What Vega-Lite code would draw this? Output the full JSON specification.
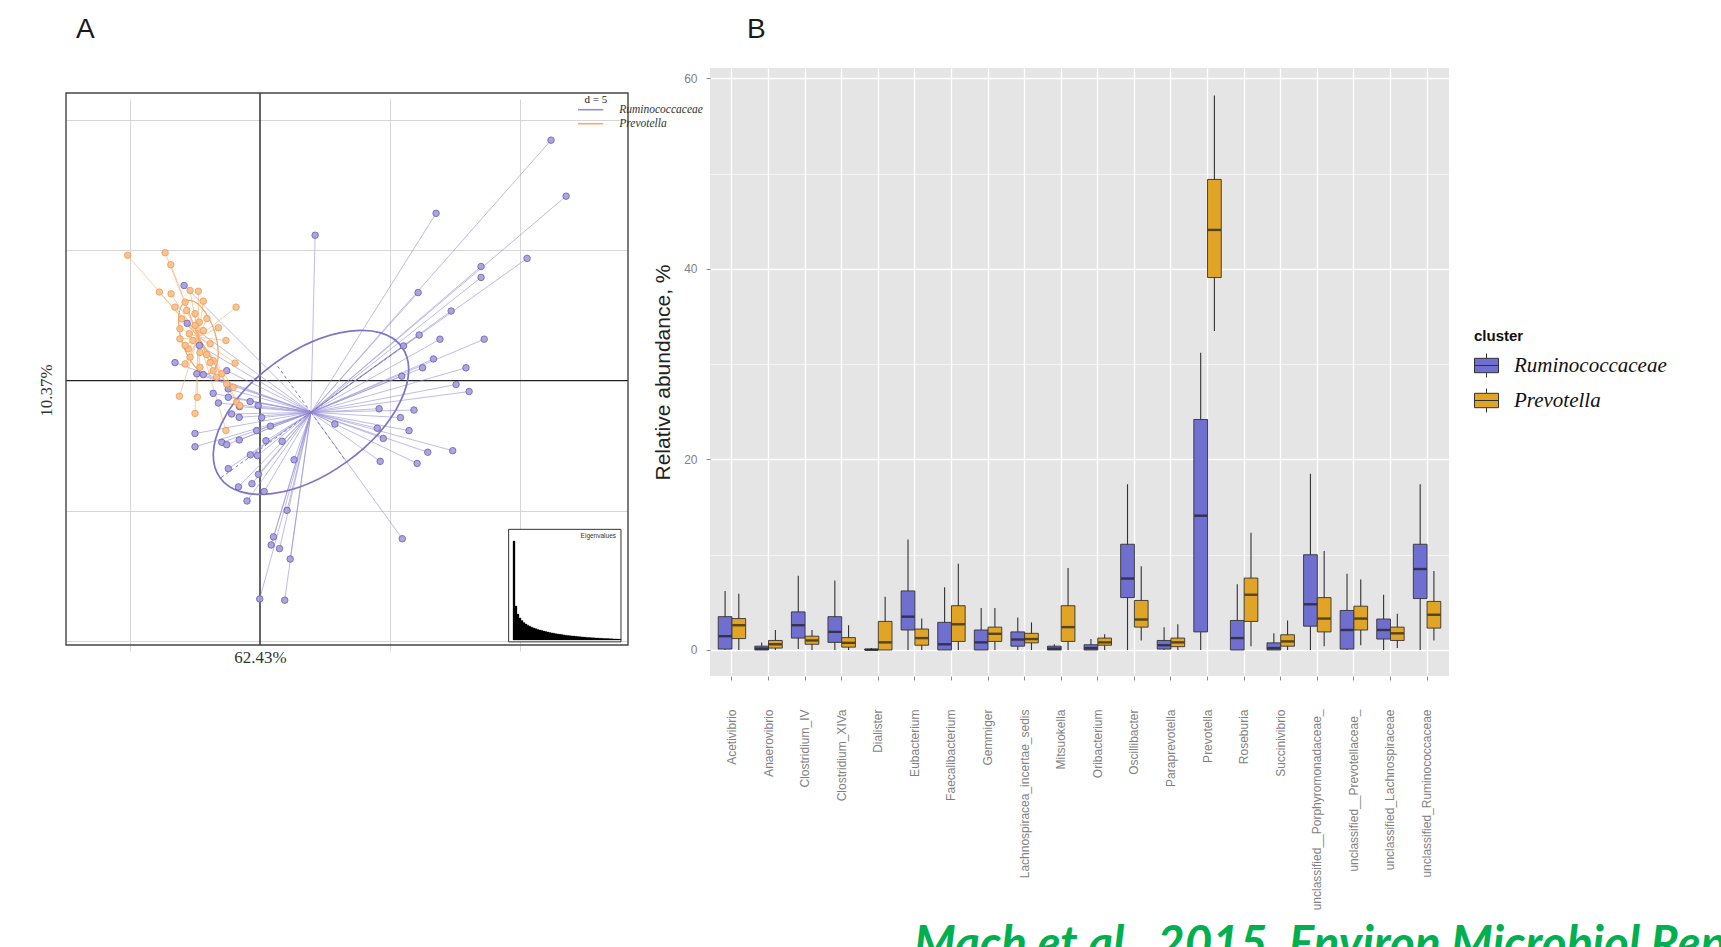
{
  "$schema": "https://vega.github.io/schema/vega-lite/v6.json",
  "background": "white",
  "padding": 0,
  "config": {
    "view": {"stroke": null},
    "axis": {"labelFont": "Liberation Sans", "titleFont": "Liberation Sans"},
    "legend": {"labelFont": "Liberation Sans", "titleFont": "Liberation Sans"},
    "title": {"font": "Liberation Sans Narrow, Liberation Sans"}
  },
  "datasets": {
    "boxes": [
      {"genus": "Acetivibrio", "cluster": "Ruminococcaceae", "lo": 0, "q1": 0.1, "med": 1.45, "q3": 3.5, "hi": 6.2},
      {"genus": "Acetivibrio", "cluster": "Prevotella", "lo": 0, "q1": 1.2, "med": 2.6, "q3": 3.3, "hi": 5.9},
      {"genus": "Anaerovibrio", "cluster": "Ruminococcaceae", "lo": 0, "q1": 0, "med": 0.15, "q3": 0.4, "hi": 0.8},
      {"genus": "Anaerovibrio", "cluster": "Prevotella", "lo": 0, "q1": 0.2, "med": 0.6, "q3": 1.0, "hi": 2.1},
      {"genus": "Clostridium_IV", "cluster": "Ruminococcaceae", "lo": 0.1, "q1": 1.25, "med": 2.6, "q3": 4.0, "hi": 7.8},
      {"genus": "Clostridium_IV", "cluster": "Prevotella", "lo": 0, "q1": 0.6, "med": 1.0, "q3": 1.45, "hi": 2.1},
      {"genus": "Clostridium_XIVa", "cluster": "Ruminococcaceae", "lo": 0, "q1": 0.8, "med": 1.9, "q3": 3.5, "hi": 7.3},
      {"genus": "Clostridium_XIVa", "cluster": "Prevotella", "lo": 0, "q1": 0.3, "med": 0.75, "q3": 1.3, "hi": 2.6},
      {"genus": "Dialister", "cluster": "Ruminococcaceae", "lo": 0, "q1": 0, "med": 0.02, "q3": 0.1, "hi": 0.2},
      {"genus": "Dialister", "cluster": "Prevotella", "lo": 0, "q1": 0, "med": 0.8, "q3": 3.0, "hi": 5.6},
      {"genus": "Eubacterium", "cluster": "Ruminococcaceae", "lo": 0, "q1": 2.1, "med": 3.5, "q3": 6.2, "hi": 11.6},
      {"genus": "Eubacterium", "cluster": "Prevotella", "lo": 0, "q1": 0.5, "med": 1.25, "q3": 2.2, "hi": 3.3},
      {"genus": "Faecalibacterium", "cluster": "Ruminococcaceae", "lo": 0, "q1": 0, "med": 0.6, "q3": 2.9, "hi": 6.6},
      {"genus": "Faecalibacterium", "cluster": "Prevotella", "lo": 0, "q1": 0.9, "med": 2.7, "q3": 4.65, "hi": 9.05},
      {"genus": "Gemmiger", "cluster": "Ruminococcaceae", "lo": 0, "q1": 0, "med": 0.8, "q3": 2.1, "hi": 4.4},
      {"genus": "Gemmiger", "cluster": "Prevotella", "lo": 0, "q1": 0.9, "med": 1.7, "q3": 2.4, "hi": 4.4},
      {"genus": "Lachnospiracea_incertae_sedis", "cluster": "Ruminococcaceae", "lo": 0, "q1": 0.4, "med": 1.1, "q3": 1.9, "hi": 3.4},
      {"genus": "Lachnospiracea_incertae_sedis", "cluster": "Prevotella", "lo": 0, "q1": 0.75, "med": 1.15, "q3": 1.75, "hi": 2.9},
      {"genus": "Mitsuokella", "cluster": "Ruminococcaceae", "lo": 0, "q1": 0, "med": 0.15, "q3": 0.4, "hi": 0.6},
      {"genus": "Mitsuokella", "cluster": "Prevotella", "lo": 0, "q1": 0.9, "med": 2.4, "q3": 4.65, "hi": 8.6},
      {"genus": "Oribacterium", "cluster": "Ruminococcaceae", "lo": 0, "q1": 0, "med": 0.2, "q3": 0.55, "hi": 1.15},
      {"genus": "Oribacterium", "cluster": "Prevotella", "lo": 0, "q1": 0.5, "med": 0.8, "q3": 1.25, "hi": 1.65},
      {"genus": "Oscillibacter", "cluster": "Ruminococcaceae", "lo": 0, "q1": 5.5, "med": 7.5, "q3": 11.1, "hi": 17.4},
      {"genus": "Oscillibacter", "cluster": "Prevotella", "lo": 1.0, "q1": 2.4, "med": 3.2, "q3": 5.2, "hi": 8.8},
      {"genus": "Paraprevotella", "cluster": "Ruminococcaceae", "lo": 0, "q1": 0.1, "med": 0.5, "q3": 1.0, "hi": 2.4},
      {"genus": "Paraprevotella", "cluster": "Prevotella", "lo": 0, "q1": 0.35, "med": 0.8, "q3": 1.25, "hi": 2.7},
      {"genus": "Prevotella", "cluster": "Ruminococcaceae", "lo": 0, "q1": 1.9, "med": 14.1, "q3": 24.2, "hi": 31.2},
      {"genus": "Prevotella", "cluster": "Prevotella", "lo": 33.5, "q1": 39.1, "med": 44.1, "q3": 49.4, "hi": 58.2},
      {"genus": "Roseburia", "cluster": "Ruminococcaceae", "lo": 0, "q1": 0, "med": 1.25, "q3": 3.1, "hi": 6.9},
      {"genus": "Roseburia", "cluster": "Prevotella", "lo": 0.4, "q1": 3.0, "med": 5.8, "q3": 7.55, "hi": 12.3},
      {"genus": "Succinivibrio", "cluster": "Ruminococcaceae", "lo": 0, "q1": 0, "med": 0.2, "q3": 0.75, "hi": 1.75},
      {"genus": "Succinivibrio", "cluster": "Prevotella", "lo": 0, "q1": 0.4, "med": 0.9, "q3": 1.6, "hi": 3.1},
      {"genus": "unclassified__Porphyromonadaceae_", "cluster": "Ruminococcaceae", "lo": 0, "q1": 2.5, "med": 4.8, "q3": 10.0, "hi": 18.5},
      {"genus": "unclassified__Porphyromonadaceae_", "cluster": "Prevotella", "lo": 0.4, "q1": 1.9, "med": 3.3, "q3": 5.5, "hi": 10.4},
      {"genus": "unclassified__Prevotellaceae_", "cluster": "Ruminococcaceae", "lo": 0, "q1": 0.1, "med": 2.1, "q3": 4.15, "hi": 8.0},
      {"genus": "unclassified__Prevotellaceae_", "cluster": "Prevotella", "lo": 0.5, "q1": 2.1, "med": 3.3, "q3": 4.6, "hi": 7.4},
      {"genus": "unclassified_Lachnospiraceae", "cluster": "Ruminococcaceae", "lo": 0, "q1": 1.15, "med": 2.1, "q3": 3.25, "hi": 5.8},
      {"genus": "unclassified_Lachnospiraceae", "cluster": "Prevotella", "lo": 0.2, "q1": 1.0, "med": 1.75, "q3": 2.4, "hi": 3.8},
      {"genus": "unclassified_Ruminococcaceae", "cluster": "Ruminococcaceae", "lo": 0, "q1": 5.4, "med": 8.5, "q3": 11.1, "hi": 17.4},
      {"genus": "unclassified_Ruminococcaceae", "cluster": "Prevotella", "lo": 1.0, "q1": 2.3, "med": 3.7, "q3": 5.1, "hi": 8.3}
    ],
    "pts": [
      {"g": "Ruminococcaceae", "x": 11.19, "y": 9.23}, {"g": "Ruminococcaceae", "x": 11.77, "y": 7.08},
      {"g": "Ruminococcaceae", "x": 6.77, "y": 6.42}, {"g": "Ruminococcaceae", "x": 2.12, "y": 5.58},
      {"g": "Ruminococcaceae", "x": 10.27, "y": 4.69}, {"g": "Ruminococcaceae", "x": 8.5, "y": 4.38},
      {"g": "Ruminococcaceae", "x": 8.5, "y": 3.96}, {"g": "Ruminococcaceae", "x": 6.08, "y": 3.38},
      {"g": "Ruminococcaceae", "x": 7.35, "y": 2.67}, {"g": "Ruminococcaceae", "x": 6.12, "y": 1.75},
      {"g": "Ruminococcaceae", "x": 6.92, "y": 1.59}, {"g": "Ruminococcaceae", "x": 8.62, "y": 1.59},
      {"g": "Ruminococcaceae", "x": 5.52, "y": 1.33}, {"g": "Ruminococcaceae", "x": 6.67, "y": 0.83},
      {"g": "Ruminococcaceae", "x": 6.25, "y": 0.49}, {"g": "Ruminococcaceae", "x": 7.92, "y": 0.49},
      {"g": "Ruminococcaceae", "x": 5.45, "y": 0.17}, {"g": "Ruminococcaceae", "x": 7.54, "y": -0.15},
      {"g": "Ruminococcaceae", "x": 8.04, "y": -0.42}, {"g": "Ruminococcaceae", "x": 4.58, "y": -1.08},
      {"g": "Ruminococcaceae", "x": 5.92, "y": -1.13}, {"g": "Ruminococcaceae", "x": 5.4, "y": -1.42},
      {"g": "Ruminococcaceae", "x": 2.88, "y": -1.67}, {"g": "Ruminococcaceae", "x": 4.51, "y": -1.83},
      {"g": "Ruminococcaceae", "x": 5.73, "y": -1.92}, {"g": "Ruminococcaceae", "x": 4.74, "y": -2.22},
      {"g": "Ruminococcaceae", "x": 6.45, "y": -2.75}, {"g": "Ruminococcaceae", "x": 7.41, "y": -2.69},
      {"g": "Ruminococcaceae", "x": 4.62, "y": -3.1}, {"g": "Ruminococcaceae", "x": 6.04, "y": -3.18},
      {"g": "Ruminococcaceae", "x": 5.47, "y": -6.07}, {"g": "Ruminococcaceae", "x": 1.31, "y": -3.04},
      {"g": "Ruminococcaceae", "x": 1.04, "y": -4.98}, {"g": "Ruminococcaceae", "x": 0.52, "y": -6.0},
      {"g": "Ruminococcaceae", "x": 0.43, "y": -6.31}, {"g": "Ruminococcaceae", "x": 0.75, "y": -6.45},
      {"g": "Ruminococcaceae", "x": 1.16, "y": -6.85}, {"g": "Ruminococcaceae", "x": -0.01, "y": -8.38},
      {"g": "Ruminococcaceae", "x": 0.95, "y": -8.43}, {"g": "Ruminococcaceae", "x": -1.8, "y": -0.49},
      {"g": "Ruminococcaceae", "x": -1.6, "y": -0.86}, {"g": "Ruminococcaceae", "x": -1.22, "y": -0.64},
      {"g": "Ruminococcaceae", "x": -1.09, "y": -1.28}, {"g": "Ruminococcaceae", "x": -0.8, "y": -1.41},
      {"g": "Ruminococcaceae", "x": -0.38, "y": -0.8}, {"g": "Ruminococcaceae", "x": -0.07, "y": -0.96},
      {"g": "Ruminococcaceae", "x": 0.06, "y": -1.42}, {"g": "Ruminococcaceae", "x": -2.5, "y": -2.03},
      {"g": "Ruminococcaceae", "x": -2.5, "y": -2.54}, {"g": "Ruminococcaceae", "x": -1.47, "y": -2.37},
      {"g": "Ruminococcaceae", "x": -1.28, "y": -2.46}, {"g": "Ruminococcaceae", "x": -0.8, "y": -2.28},
      {"g": "Ruminococcaceae", "x": -0.13, "y": -1.92}, {"g": "Ruminococcaceae", "x": 0.4, "y": -1.75},
      {"g": "Ruminococcaceae", "x": 0.23, "y": -2.31}, {"g": "Ruminococcaceae", "x": 0.85, "y": -2.33},
      {"g": "Ruminococcaceae", "x": -0.37, "y": -2.85}, {"g": "Ruminococcaceae", "x": -0.1, "y": -2.88},
      {"g": "Ruminococcaceae", "x": -1.22, "y": -3.38}, {"g": "Ruminococcaceae", "x": -0.06, "y": -3.6},
      {"g": "Ruminococcaceae", "x": -0.31, "y": -3.96}, {"g": "Ruminococcaceae", "x": -0.83, "y": -4.08},
      {"g": "Ruminococcaceae", "x": 0.16, "y": -4.26}, {"g": "Ruminococcaceae", "x": -0.5, "y": -4.62},
      {"g": "Ruminococcaceae", "x": -2.92, "y": 3.65}, {"g": "Ruminococcaceae", "x": -2.8, "y": 2.2},
      {"g": "Ruminococcaceae", "x": -2.33, "y": 1.35}, {"g": "Ruminococcaceae", "x": -3.27, "y": 0.69},
      {"g": "Ruminococcaceae", "x": -2.43, "y": 0.26}, {"g": "Ruminococcaceae", "x": -2.18, "y": 0.23},
      {"g": "Ruminococcaceae", "x": -1.28, "y": 0.38}, {"g": "Ruminococcaceae", "x": -1.22, "y": -0.32},
      {"g": "Ruminococcaceae", "x": -0.79, "y": -1.0},
      {"g": "Prevotella", "x": -5.09, "y": 4.81}, {"g": "Prevotella", "x": -3.65, "y": 4.91},
      {"g": "Prevotella", "x": -3.43, "y": 4.45}, {"g": "Prevotella", "x": -3.87, "y": 3.4},
      {"g": "Prevotella", "x": -3.42, "y": 3.33}, {"g": "Prevotella", "x": -2.69, "y": 3.46},
      {"g": "Prevotella", "x": -2.37, "y": 3.43}, {"g": "Prevotella", "x": -2.18, "y": 3.05},
      {"g": "Prevotella", "x": -0.92, "y": 2.82}, {"g": "Prevotella", "x": -3.27, "y": 2.82},
      {"g": "Prevotella", "x": -2.88, "y": 3.01}, {"g": "Prevotella", "x": -2.82, "y": 2.69},
      {"g": "Prevotella", "x": -2.5, "y": 2.57}, {"g": "Prevotella", "x": -3.01, "y": 2.37},
      {"g": "Prevotella", "x": -2.33, "y": 2.24}, {"g": "Prevotella", "x": -1.6, "y": 2.03},
      {"g": "Prevotella", "x": -3.08, "y": 1.99}, {"g": "Prevotella", "x": -2.72, "y": 1.8},
      {"g": "Prevotella", "x": -2.18, "y": 1.92}, {"g": "Prevotella", "x": -1.31, "y": 1.54},
      {"g": "Prevotella", "x": -3.08, "y": 1.6}, {"g": "Prevotella", "x": -1.92, "y": 1.41},
      {"g": "Prevotella", "x": -2.76, "y": 1.22}, {"g": "Prevotella", "x": -2.05, "y": 1.0},
      {"g": "Prevotella", "x": -2.69, "y": 0.9}, {"g": "Prevotella", "x": -1.8, "y": 0.77},
      {"g": "Prevotella", "x": -0.96, "y": 0.67}, {"g": "Prevotella", "x": -2.88, "y": 0.64},
      {"g": "Prevotella", "x": -2.31, "y": 0.51}, {"g": "Prevotella", "x": -1.8, "y": 0.38},
      {"g": "Prevotella", "x": -1.67, "y": 0.13}, {"g": "Prevotella", "x": -1.28, "y": -0.13},
      {"g": "Prevotella", "x": -1.03, "y": -0.26}, {"g": "Prevotella", "x": -3.1, "y": -0.6},
      {"g": "Prevotella", "x": -2.41, "y": -0.64}, {"g": "Prevotella", "x": -0.9, "y": -0.83},
      {"g": "Prevotella", "x": -1.47, "y": 0.26}, {"g": "Prevotella", "x": -2.5, "y": -1.26},
      {"g": "Prevotella", "x": -1.31, "y": -1.92}, {"g": "Prevotella", "x": -0.77, "y": -0.96},
      {"g": "Prevotella", "x": -2.5, "y": 2.12}, {"g": "Prevotella", "x": -2.04, "y": 2.38},
      {"g": "Prevotella", "x": -2.88, "y": 1.35}, {"g": "Prevotella", "x": -2.31, "y": 1.08},
      {"g": "Prevotella", "x": -2.58, "y": 1.54}, {"g": "Prevotella", "x": -1.92, "y": 0.69}
    ],
    "cent": [
      {"g": "Ruminococcaceae", "cx": 1.96, "cy": -1.22},
      {"g": "Prevotella", "cx": -2.37, "cy": 1.67}
    ],
    "eax": [
      {"x": 1.96, "y": -1.22, "x2": 5.46, "y2": 1.28},
      {"x": 1.96, "y": -1.22, "x2": -1.53, "y2": -3.75},
      {"x": 1.96, "y": -1.22, "x2": 3.33, "y2": -3.13},
      {"x": 1.96, "y": -1.22, "x2": 0.59, "y2": 0.67}
    ],
    "eig": [
      {"k": 1, "v": 99}, {"k": 2, "v": 34}, {"k": 3, "v": 26}, {"k": 4, "v": 22}, {"k": 5, "v": 19.5},
      {"k": 6, "v": 17.5}, {"k": 7, "v": 16}, {"k": 8, "v": 14.8}, {"k": 9, "v": 13.7}, {"k": 10, "v": 12.8},
      {"k": 11, "v": 12}, {"k": 12, "v": 11.3}, {"k": 13, "v": 10.6}, {"k": 14, "v": 10}, {"k": 15, "v": 9.4},
      {"k": 16, "v": 8.9}, {"k": 17, "v": 8.4}, {"k": 18, "v": 7.9}, {"k": 19, "v": 7.5}, {"k": 20, "v": 7.1},
      {"k": 21, "v": 6.7}, {"k": 22, "v": 6.3}, {"k": 23, "v": 6}, {"k": 24, "v": 5.7}, {"k": 25, "v": 5.4},
      {"k": 26, "v": 5.1}, {"k": 27, "v": 4.8}, {"k": 28, "v": 4.6}, {"k": 29, "v": 4.3}, {"k": 30, "v": 4.1},
      {"k": 31, "v": 3.9}, {"k": 32, "v": 3.7}, {"k": 33, "v": 3.5}, {"k": 34, "v": 3.3}, {"k": 35, "v": 3.1},
      {"k": 36, "v": 2.9}, {"k": 37, "v": 2.75}, {"k": 38, "v": 2.6}, {"k": 39, "v": 2.45}, {"k": 40, "v": 2.3},
      {"k": 41, "v": 2.15}, {"k": 42, "v": 2.0}, {"k": 43, "v": 1.9}, {"k": 44, "v": 1.8}, {"k": 45, "v": 1.7},
      {"k": 46, "v": 1.6}, {"k": 47, "v": 1.5}, {"k": 48, "v": 1.4}, {"k": 49, "v": 1.3}, {"k": 50, "v": 1.2},
      {"k": 51, "v": 1.1}, {"k": 52, "v": 1.0}, {"k": 53, "v": 0.9}, {"k": 54, "v": 0.8}
    ]
  },
  "columns": 4,
  "spacing": 0,
  "bounds": "flush",
  "align": "each",
  "resolve": {
    "scale": {"color": "independent", "fill": "independent", "stroke": "independent"},
    "legend": {"color": "independent"}
  },
  "concat": [
    {"width": 66, "height": 68, "data": {"values": []}, "mark": "point", "encoding": {}},
    {"width": 562, "height": 1, "data": {"values": []}, "mark": "point", "encoding": {}},
    {"width": 82, "height": 1, "data": {"values": []}, "mark": "point", "encoding": {}},
    {"width": 739, "height": 1, "data": {"values": []}, "mark": "point", "encoding": {}},

    {"width": 66, "height": 608, "data": {"values": []}, "mark": "point", "encoding": {}},
    {
      "width": 562,
      "height": 608,
      "title": {"text": "A", "anchor": "start", "frame": "group", "dx": 10, "offset": 24, "fontSize": 28, "fontWeight": "normal", "color": "#1a1a1a"},
      "layer": [
        {
          "layer": [
            {
              "data": {"values": [{}]},
              "mark": {"type": "rule", "color": "#222222", "strokeWidth": 1.4},
              "encoding": {
                "x": {
                  "datum": 0, "type": "quantitative", "title": "62.43%",
                  "scale": {"domain": [-7.46, 14.15], "nice": false, "zero": false},
                  "axis": {
                    "values": [-5, 5, 10], "grid": true, "gridColor": "#d6d6d6", "gridWidth": 1,
                    "labels": false, "ticks": false, "domain": false,
                    "title": "62.43%", "titleFont": "Liberation Serif", "titleFontSize": 17, "titleFontWeight": "normal",
                    "titleColor": "#333333", "titleX": 194, "titlePadding": 4, "offset": -31
                  }
                },
                "y": {
                  "datum": -10.15, "type": "quantitative", "title": "10.37%",
                  "scale": {"domain": [-10.15, 11.04], "range": [577, 25], "nice": false, "zero": false},
                  "axis": {
                    "values": [-10, -5, 5, 10], "grid": true, "gridColor": "#d6d6d6", "gridWidth": 1,
                    "labels": false, "ticks": false, "domain": false,
                    "title": "10.37%", "titleFont": "Liberation Serif", "titleFontSize": 17, "titleFontWeight": "normal",
                    "titleColor": "#333333", "titleY": 322, "titlePadding": 11
                  }
                },
                "y2": {"datum": 11.04}
              }
            },
            {
              "data": {"values": [{}]},
              "mark": {"type": "rule", "color": "#222222", "strokeWidth": 1.4},
              "encoding": {
                "y": {"datum": 0, "type": "quantitative", "title": "10.37%"},
                "x": {"datum": -7.46, "type": "quantitative", "title": "62.43%"},
                "x2": {"datum": 14.15}
              }
            },
            {
              "data": {"name": "pts"},
              "transform": [{"lookup": "g", "from": {"data": {"name": "cent"}, "key": "g", "fields": ["cx", "cy"]}}],
              "mark": {"type": "rule", "strokeWidth": 0.8, "opacity": 0.75},
              "encoding": {
                "x": {"field": "x", "type": "quantitative", "title": "62.43%"},
                "y": {"field": "y", "type": "quantitative", "title": "10.37%"},
                "x2": {"field": "cx"},
                "y2": {"field": "cy"},
                "color": {
                  "field": "g", "type": "nominal",
                  "scale": {"domain": ["Ruminococcaceae", "Prevotella"], "range": ["#958DD3", "#F5AE6E"]},
                  "legend": {
                    "orient": "none", "legendX": 516.6, "legendY": 33.7, "title": null, "padding": 0,
                    "symbolType": "M -1.8 0 L 1.8 0", "symbolSize": 196, "symbolStrokeWidth": 1.6, "symbolOpacity": 1,
                    "labelFont": "Liberation Serif", "labelFontStyle": "italic", "labelFontSize": 11.5,
                    "labelColor": "#333333", "labelOffset": 20.6, "rowPadding": 0, "labelLimit": 200
                  }
                }
              }
            },
            {
              "data": {"name": "cent"},
              "transform": [{"filter": "datum.g === 'Ruminococcaceae'"}],
              "mark": {
                "type": "point", "filled": false, "opacity": 1, "stroke": "#7F75C6", "strokeWidth": 1.7, "size": 50176,
                "shape": "M -0.812 0.584 A 1 0.545 -35.7 1 1 0.812 -0.584 A 1 0.545 -35.7 1 1 -0.812 0.584 Z"
              },
              "encoding": {
                "x": {"field": "cx", "type": "quantitative", "title": "62.43%"},
                "y": {"field": "cy", "type": "quantitative", "title": "10.37%"}
              }
            },
            {
              "data": {"name": "cent"},
              "transform": [{"filter": "datum.g === 'Prevotella'"}],
              "mark": {
                "type": "point", "filled": false, "opacity": 1, "stroke": "#F3A35E", "strokeWidth": 1.2, "size": 5776,
                "shape": "M -0.297 -0.955 A 1 0.45 72.7 1 1 0.297 0.955 A 1 0.45 72.7 1 1 -0.297 -0.955 Z"
              },
              "encoding": {
                "x": {"field": "cx", "type": "quantitative", "title": "62.43%"},
                "y": {"field": "cy", "type": "quantitative", "title": "10.37%"}
              }
            },
            {
              "data": {"name": "eax"},
              "mark": {"type": "rule", "color": "#7F75C6", "strokeWidth": 1, "strokeDash": [3, 3]},
              "encoding": {
                "x": {"field": "x", "type": "quantitative", "title": "62.43%"},
                "y": {"field": "y", "type": "quantitative", "title": "10.37%"},
                "x2": {"field": "x2"},
                "y2": {"field": "y2"}
              }
            },
            {
              "data": {"name": "pts"},
              "mark": {"type": "point", "filled": true, "size": 42, "strokeWidth": 1, "opacity": 0.9},
              "encoding": {
                "x": {"field": "x", "type": "quantitative", "title": "62.43%"},
                "y": {"field": "y", "type": "quantitative", "title": "10.37%"},
                "fill": {"field": "g", "type": "nominal", "scale": {"domain": ["Ruminococcaceae", "Prevotella"], "range": ["#A49EDD", "#F9BF8A"]}, "legend": null},
                "stroke": {"field": "g", "type": "nominal", "scale": {"domain": ["Ruminococcaceae", "Prevotella"], "range": ["#6C62B6", "#EF9E55"]}, "legend": null}
              }
            },
            {
              "data": {"values": [{}]},
              "mark": {"type": "rect", "fill": "white", "stroke": "#333333", "strokeWidth": 1},
              "encoding": {
                "x": {"datum": 9.56, "type": "quantitative", "title": "62.43%"},
                "x2": {"datum": 13.88},
                "y": {"datum": -5.71, "type": "quantitative", "title": "10.37%"},
                "y2": {"datum": -10.03}
              }
            },
            {
              "data": {"values": [{}]},
              "mark": {"type": "text", "text": "Eigenvalues", "align": "right", "baseline": "middle", "fontSize": 6.5, "font": "Liberation Sans", "color": "#333333"},
              "encoding": {
                "x": {"datum": 13.69, "type": "quantitative", "title": "62.43%"},
                "y": {"datum": -5.96, "type": "quantitative", "title": "10.37%"}
              }
            },
            {
              "data": {"values": [{}]},
              "mark": {"type": "text", "text": "d = 5", "align": "right", "baseline": "middle", "fontSize": 11, "font": "Liberation Serif", "color": "#222222"},
              "encoding": {
                "x": {"datum": 13.35, "type": "quantitative", "title": "62.43%"},
                "y": {"datum": 10.77, "type": "quantitative", "title": "10.37%"}
              }
            },
            {
              "data": {"values": [{}]},
              "mark": {"type": "rect", "fillOpacity": 0, "stroke": "#444444", "strokeWidth": 1.4},
              "encoding": {
                "x": {"datum": -7.46, "type": "quantitative", "title": "62.43%"},
                "x2": {"datum": 14.15},
                "y": {"datum": -10.15, "type": "quantitative", "title": "10.37%"},
                "y2": {"datum": 11.04}
              }
            }
          ]
        },
        {
          "data": {"name": "eig"},
          "mark": {"type": "bar", "color": "black", "stroke": "black", "strokeWidth": 0.3},
          "encoding": {
            "x": {"field": "k", "type": "ordinal", "scale": {"range": [447, 555], "paddingInner": 0, "paddingOuter": 0}, "axis": null},
            "y": {"field": "v", "type": "quantitative", "scale": {"domain": [0, 99], "range": [572, 473]}, "axis": null}
          }
        }
      ],
      "resolve": {"scale": {"x": "independent", "y": "independent"}, "axis": {"x": "independent", "y": "independent"}}
    },
    {"width": 82, "height": 608, "data": {"values": []}, "mark": "point", "encoding": {}},
    {
      "width": 739,
      "height": 608,
      "title": {"text": "B", "anchor": "start", "frame": "group", "dx": 37, "offset": 24, "fontSize": 28, "fontWeight": "normal", "color": "#1a1a1a"},
      "view": {"fill": "#E5E5E5", "stroke": null},
      "data": {"name": "boxes"},
      "encoding": {
        "x": {
          "field": "genus", "type": "nominal", "sort": null,
          "scale": {"paddingInner": 0.25, "paddingOuter": 0.225},
          "axis": {
            "title": null, "labelAngle": 270, "labelFontSize": 12, "labelColor": "#7F7F7F", "labelPadding": 29,
            "labelLimit": 400, "tickSize": 4, "tickColor": "#8A8A8A", "domain": false,
            "grid": true, "gridColor": "white", "gridWidth": 1.3, "bandPosition": 0.5
          }
        },
        "xOffset": {"field": "cluster", "type": "nominal", "scale": {"domain": ["Ruminococcaceae", "Prevotella"], "paddingInner": 0, "paddingOuter": 0}}
      },
      "layer": [
        {
          "mark": {"type": "rule", "color": "#333333", "strokeWidth": 1.1},
          "encoding": {
            "y": {
              "field": "lo", "type": "quantitative", "title": "Relative abundance, %",
              "scale": {"domain": [-2.73, 61.1], "nice": false, "zero": false},
              "axis": {
                "values": [0, 10, 20, 30, 40, 50, 60],
                "labelExpr": "datum.value % 20 === 0 ? datum.label : ''",
                "grid": true, "gridColor": "white",
                "gridWidth": {"condition": {"test": "datum.value % 20 === 0", "value": 1.3}, "value": 0.6},
                "tickSize": 4,
                "tickColor": {"condition": {"test": "datum.value % 20 === 0", "value": "#8A8A8A"}, "value": "rgba(0,0,0,0)"},
                "domain": false, "labelColor": "#7F7F7F", "labelFontSize": 12, "labelPadding": 9,
                "title": "Relative abundance, %", "titleFontSize": 21, "titleFontWeight": "normal",
                "titleColor": "#222222", "titlePadding": 10
              }
            },
            "y2": {"field": "hi"}
          }
        },
        {
          "mark": {"type": "bar", "stroke": "#333333", "strokeWidth": 0.9},
          "encoding": {
            "y": {"field": "q1", "type": "quantitative", "title": "Relative abundance, %"},
            "y2": {"field": "q3"},
            "color": {
              "field": "cluster", "type": "nominal",
              "scale": {"domain": ["Ruminococcaceae", "Prevotella"], "range": ["#6F6FCF", "#E0A526"]},
              "legend": {
                "orient": "none", "legendX": 764, "legendY": 261, "padding": 0,
                "title": "cluster", "titleFontSize": 15, "titleFontWeight": "bold", "titleColor": "#111111", "titlePadding": 9,
                "labelFont": "Liberation Serif", "labelFontStyle": "italic", "labelFontSize": 21, "labelColor": "#111111",
                "labelOffset": 15, "labelLimit": 300,
                "symbolType": "M -1 -0.6 L 1 -0.6 L 1 0.6 L -1 0.6 Z M -1 0 L 1 0 M 0 -0.6 L 0 -1 M 0 0.6 L 0 1",
                "symbolSize": 576, "symbolStrokeColor": "#333333", "symbolStrokeWidth": 1, "symbolOpacity": 1,
                "rowPadding": 6
              }
            }
          }
        },
        {
          "mark": {"type": "tick", "color": "#1a1a1a", "thickness": 2.4, "size": 13},
          "encoding": {
            "y": {"field": "med", "type": "quantitative", "title": "Relative abundance, %"}
          }
        }
      ]
    },

    {"width": 66, "height": 271, "data": {"values": []}, "mark": "point", "encoding": {}},
    {"width": 562, "height": 1, "data": {"values": []}, "mark": "point", "encoding": {}},
    {"width": 82, "height": 1, "data": {"values": []}, "mark": "point", "encoding": {}},
    {
      "width": 1011,
      "height": 271,
      "data": {"values": [{}]},
      "mark": {
        "type": "text", "clip": true, "text": "Mach et al., 2015, Environ Microbiol Rep",
        "font": "Lato", "fontSize": 47.5, "fontStyle": "italic", "fontWeight": "bold", "color": "#00B050",
        "align": "left", "baseline": "alphabetic"
      },
      "encoding": {
        "x": {"datum": 204, "type": "quantitative", "scale": {"domain": [0, 1011]}, "axis": null},
        "y": {"datum": 284, "type": "quantitative", "scale": {"domain": [0, 271], "reverse": true}, "axis": null}
      }
    }
  ]
}
